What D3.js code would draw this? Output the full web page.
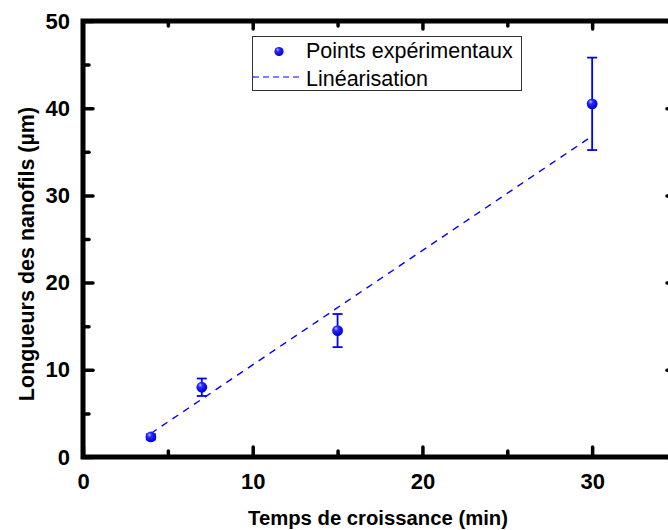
<!DOCTYPE html>
<html lang="fr">
<head>
<meta charset="UTF-8">
<title>Longueurs des nanofils</title>
<style>
  body { margin: 0; background: #fff; }
  svg { display: block; }
  text { font-family: "Liberation Sans", Arial, Helvetica, sans-serif; }
</style>
</head>
<body>
<script src="https://d3js.org/d3.v7.min.js"></script>
<script>
// donnees
var temps    = [4, 7, 15, 30];          // min
var longueur = [2.3, 8.0, 14.5, 40.5];  // µm
var erreur   = [0.3, 1.0, 1.9, 5.3];    // µm
// droite de linearisation (extremites)
var fitTemps = [4, 30];
var fitLong  = [2.7, 36.8];

var xMajor = [0, 10, 20, 30];
var xMinor = [5, 15, 25];
var yMajor = [0, 10, 20, 30, 40, 50];
var yMinor = [5, 15, 25, 35, 45];

var width = 668, height = 530;
var gauche = 83, droite = 677, haut = 21, bas = 457;

var svg = d3.select("body").append("svg")
    .attr("width", width)
    .attr("height", height);

var x = d3.scaleLinear().domain([0, 35]).range([gauche, droite]);
var y = d3.scaleLinear().domain([0, 50]).range([bas, haut]);

// gradient pour l'effet "bille"
var grad = svg.append("defs").append("radialGradient")
    .attr("id", "bille").attr("cx", "40%").attr("cy", "35%").attr("r", "60%")
    .attr("fx", "35%").attr("fy", "30%");
grad.append("stop").attr("offset", "0%").attr("stop-color", "#b8b8ff");
grad.append("stop").attr("offset", "35%").attr("stop-color", "#2828ff");
grad.append("stop").attr("offset", "100%").attr("stop-color", "#0000e0");

// axes : graduations vers l'interieur
function styleAxis(g) {
  g.select(".domain").remove();
  g.selectAll(".tick line").attr("stroke", "#000").attr("stroke-width", 3.5)
    .attr("stroke-linecap", "round");
  g.selectAll(".tick text").attr("font-size", 22).attr("font-weight", "bold")
    .attr("fill", "#000");
}

svg.append("g").attr("transform", "translate(0," + bas + ")")
  .call(d3.axisBottom(x).tickValues(xMajor).tickSize(-10).tickPadding(16).tickFormat(d3.format("d")))
  .call(styleAxis);
svg.append("g").attr("transform", "translate(0," + bas + ")")
  .call(d3.axisBottom(x).tickValues(xMinor).tickSize(-6).tickFormat(""))
  .call(styleAxis);
svg.append("g").attr("transform", "translate(0," + haut + ")")
  .call(d3.axisTop(x).tickValues(xMajor.slice(1)).tickSize(-8).tickFormat(""))
  .call(styleAxis);
svg.append("g").attr("transform", "translate(0," + haut + ")")
  .call(d3.axisTop(x).tickValues(xMinor).tickSize(-5).tickFormat(""))
  .call(styleAxis);

svg.append("g").attr("transform", "translate(" + gauche + ",0)")
  .call(d3.axisLeft(y).tickValues(yMajor).tickSize(-10).tickPadding(13).tickFormat(d3.format("d")))
  .call(styleAxis);
svg.append("g").attr("transform", "translate(" + gauche + ",0)")
  .call(d3.axisLeft(y).tickValues(yMinor).tickSize(-6).tickFormat(""))
  .call(styleAxis);
svg.append("g").attr("transform", "translate(" + droite + ",0)")
  .call(d3.axisRight(y).tickValues(yMajor).tickSize(-10).tickFormat(""))
  .call(styleAxis);
svg.append("g").attr("transform", "translate(" + droite + ",0)")
  .call(d3.axisRight(y).tickValues(yMinor).tickSize(-6).tickFormat(""))
  .call(styleAxis);

// cadre
svg.append("rect")
  .attr("x", gauche).attr("y", haut)
  .attr("width", droite - gauche).attr("height", bas - haut)
  .attr("fill", "none").attr("stroke", "#000").attr("stroke-width", 5);

// droite de linearisation
var fit = fitTemps.map(function(t, i){ return [t, fitLong[i]]; });
svg.append("path")
  .datum(fit)
  .attr("d", d3.line().x(function(d){ return x(d[0]); }).y(function(d){ return y(d[1]); }))
  .attr("fill", "none").attr("stroke", "#0000ff").attr("stroke-width", 1.4)
  .attr("stroke-dasharray", "7,6");

// barres d'erreur
var pts = temps.map(function(t, i){ return {t: t, l: longueur[i], e: erreur[i]}; });
var eb = svg.append("g").attr("stroke", "#0000ff").attr("stroke-width", 1.8);
eb.selectAll(".v").data(pts).enter().append("line")
  .attr("x1", function(d){ return x(d.t); }).attr("x2", function(d){ return x(d.t); })
  .attr("y1", function(d){ return y(d.l - d.e); }).attr("y2", function(d){ return y(d.l + d.e); });
[-1, 1].forEach(function(s){
  eb.selectAll(".c" + s).data(pts).enter().append("line")
    .attr("x1", function(d){ return x(d.t) - 5; }).attr("x2", function(d){ return x(d.t) + 5; })
    .attr("y1", function(d){ return y(d.l + s * d.e); }).attr("y2", function(d){ return y(d.l + s * d.e); });
});

// points
svg.selectAll("circle.pt").data(pts).enter().append("circle")
  .attr("class", "pt")
  .attr("cx", function(d){ return x(d.t); }).attr("cy", function(d){ return y(d.l); })
  .attr("r", 5.4).attr("fill", "url(#bille)");

// legende
var leg = svg.append("g");
leg.append("rect").attr("x", 252.5).attr("y", 36.5).attr("width", 269).attr("height", 54)
  .attr("fill", "#fff").attr("stroke", "#333").attr("stroke-width", 1);
leg.append("circle").attr("cx", 279).attr("cy", 51.5).attr("r", 4.6).attr("fill", "url(#bille)");
leg.append("line").attr("x1", 253).attr("x2", 301).attr("y1", 77).attr("y2", 77)
  .attr("stroke", "#0000ff").attr("stroke-width", 1.2).attr("stroke-dasharray", "6,4");
leg.append("text").attr("x", 306).attr("y", 58).attr("font-size", 21.5).text("Points expérimentaux");
leg.append("text").attr("x", 306).attr("y", 86).attr("font-size", 21.5).text("Linéarisation");

// titres des axes
svg.append("text")
  .attr("x", 378).attr("y", 525)
  .attr("text-anchor", "middle").attr("font-size", 20.3).attr("font-weight", "bold")
  .text("Temps de croissance (min)");
svg.append("text")
  .attr("transform", "translate(34,254) rotate(-90)")
  .attr("text-anchor", "middle").attr("font-size", 21.5).attr("font-weight", "bold")
  .text("Longueurs des nanofils (µm)");
</script>
</body>
</html>
